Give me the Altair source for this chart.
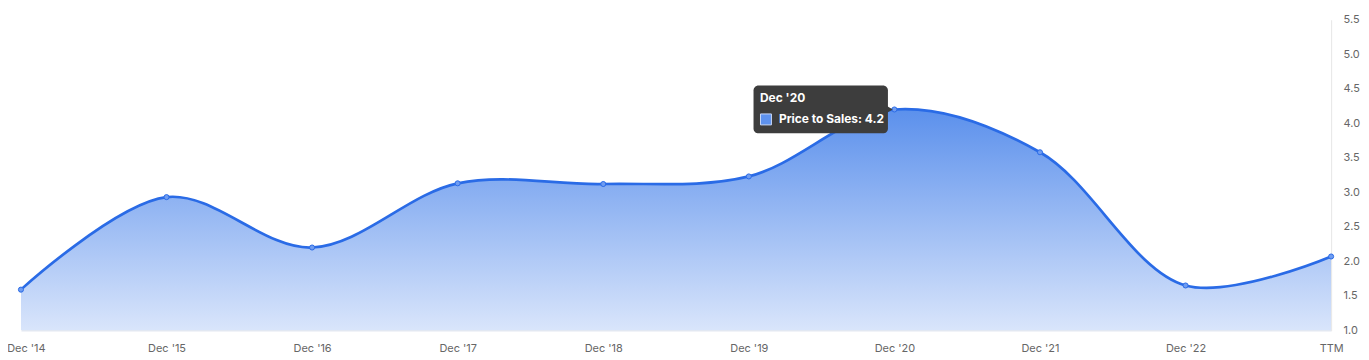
import altair as alt
import pandas as pd

periods = ["Dec '14", "Dec '15", "Dec '16", "Dec '17", "Dec '18", "Dec '19", "Dec '20", "Dec '21", "Dec '22", "TTM"]
values = [1.59, 2.93, 2.20, 3.13, 3.12, 3.23, 4.20, 3.58, 1.65, 2.07]
y_ticks = [1.0, 1.5, 2.0, 2.5, 3.0, 3.5, 4.0, 4.5, 5.0, 5.5]

tip_period = "Dec '20"
tip_value = 4.2
tip_title = "Dec '20"
tip_label = "Price to Sales: 4.2"

df = pd.DataFrame({"period": periods, "value": values})
tip = pd.DataFrame({"period": [tip_period], "value": [tip_value],
                    "title": [tip_title], "label": [tip_label]})

FONT = "Inter"

x = alt.X("period:O", sort=periods,
          scale=alt.Scale(type="point", padding=0),
          axis=alt.Axis(title=None, labelAngle=0, labelFont=FONT, labelFontSize=11,
                        labelColor="#666666", ticks=False, domainColor="#d5dcea",
                        labelPadding=12, labelOverlap=False,
                        labelOffset=alt.ExprRef(expr="datum.index === 0 ? 5 : 0")))
y = alt.Y("value:Q",
          scale=alt.Scale(domain=[1.0, 5.5], nice=False, zero=False),
          axis=alt.Axis(title=None, orient="right", values=y_ticks, format=".1f",
                        grid=False, ticks=False, domainColor="#e6e6e6",
                        labelFont=FONT, labelFontSize=11, labelColor="#666666",
                        labelPadding=12, labelOverlap=False, labelBound=False))

base = alt.Chart(df).encode(x=x, y=y)

area = base.mark_area(
    interpolate="catmull-rom", clip=True,
    color=alt.Gradient(gradient="linear",
                       stops=[alt.GradientStop(color="#5b90ec", offset=0),
                              alt.GradientStop(color="#d9e5fb", offset=1)],
                       x1=1, x2=1, y1=0, y2=1),
).encode(y2=alt.datum(1.0))
line = base.mark_line(interpolate="catmull-rom", color="#2a6be6", strokeWidth=2.7)
pts = base.mark_point(filled=True, size=26, color="#6f9cf0", stroke="#2a6be6",
                      strokeWidth=1, opacity=1)

tb = alt.Chart(tip).encode(x=x, y=y)
box = tb.mark_rect(width=135, height=48, xOffset=-74, cornerRadius=5,
                   color="#3d3d3d", opacity=1)
pointer = tb.mark_point(shape="triangle-right", filled=True, size=60,
                        color="#3d3d3d", xOffset=-5, opacity=1)
swatch = tb.mark_rect(width=11, height=11, xOffset=-129, yOffset=10,
                      color="#5e92ee", stroke="#c8d8f8", strokeWidth=1, opacity=1)
t1 = tb.mark_text(align="left", baseline="middle", dx=-135, dy=-12, font=FONT,
                  fontSize=12, fontWeight="bold", color="#ffffff").encode(text="title:N")
t2 = tb.mark_text(align="left", baseline="middle", dx=-116, dy=10, font=FONT,
                  fontSize=12, fontWeight="bold", color="#ffffff").encode(text="label:N")

chart = alt.layer(area, line, pts, box, pointer, swatch, t1, t2).properties(
    width=1316, height=312,
    autosize=alt.AutoSizeParams(type="none"),
    padding={"left": 13, "top": 11, "right": 30, "bottom": 30},
).configure_view(stroke=None)

chart.save("out.html", embed_options={"renderer": "svg", "actions": False})
